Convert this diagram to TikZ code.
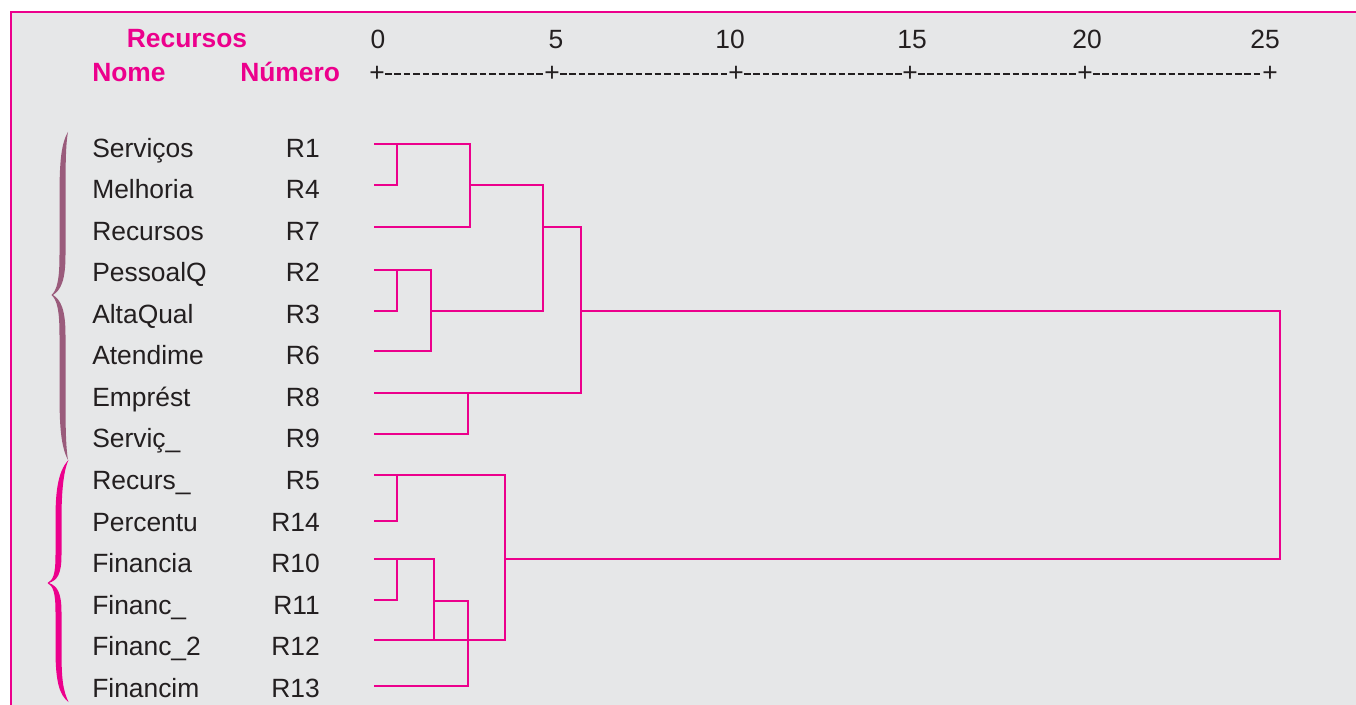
\documentclass[tikz,border=0pt]{standalone}
\usepackage{fontspec}
\setmainfont{Liberation Sans}
\usetikzlibrary{positioning}
\definecolor{rosa}{HTML}{EC008C}
\definecolor{malva}{HTML}{9A5B7B}
\definecolor{fundo}{HTML}{E6E7E8}
\definecolor{texto}{HTML}{231F20}
\tikzset{
  dend/.style={rosa,line width=2pt},
  rotulo/.style={anchor=base west,inner sep=0pt,text=texto,font=\fontsize{19.8}{24}\selectfont},
  numero/.style={anchor=base east,inner sep=0pt,text=texto,font=\fontsize{19.8}{24}\selectfont},
  escala/.style={anchor=base,inner sep=0pt,text=texto,font=\fontsize{19.8}{24}\selectfont},
  cabec/.style={anchor=base west,inner sep=0pt,text=rosa,font=\fontsize{19.8}{24}\selectfont\bfseries},
  tracejado/.style={texto,line width=1.3pt,dash pattern=on 4.9pt off 2.2pt}
}
\begin{document}
\begin{tikzpicture}[x=0.75pt,y=-0.75pt]
\useasboundingbox (0,0) rectangle (1356,705);
\fill[white] (0,0) rectangle (1356,705);
\fill[fundo] (11,12) rectangle (1356,705);
\draw[rosa,line width=2pt] (11,705) -- (11,12) -- (1356,12);

% cabecalho
\node[cabec,anchor=base] (hrec) at (187,48) {Recursos};
\node[cabec] (hnome) at (92,82) {Nome};
\node[cabec] (hnum) at (240,82) {Número};

% escala
\foreach \v/\x in {0/378,5/556,10/730,15/912,20/1087,25/1265}
  \node[escala] (e\v) at (\x,49) {\v};
\foreach \k/\x in {0/377,1/552,2/736,3/910,4/1085,5/1270}
  \node[inner sep=0pt,text=texto,font=\fontsize{19.8}{24}\selectfont] (p\k) at (\x,74) {+};
\foreach \k [evaluate=\k as \j using int(\k+1)] in {0,...,4}
  \draw[tracejado] (p\k.east) -- (p\j.west);

% folhas
\foreach \i/\nome/\num/\ly in {0/Serviços/R1/144, 1/Melhoria/R4/185, 2/Recursos/R7/227,
    3/PessoalQ/R2/270, 4/AltaQual/R3/311, 5/Atendime/R6/351, 6/Emprést/R8/393,
    7/Serviç\_/R9/434, 8/Recurs\_/R5/475, 9/Percentu/R14/521, 10/Financia/R10/559,
    11/Financ\_/R11/600, 12/Financ\_2/R12/640, 13/Financim/R13/686} {
  \pgfmathsetmacro\by{157.5+41.5*\i}
  \node[rotulo] (n\num) at (92,\by) {\nome};
  \node[numero] (\num) at (320,\by) {\num};
  \coordinate (c\num) at (374,\ly);
}

% chaves
\fill[malva] (68,132) .. controls (60,145) and (59.5,170) .. (59.5,200) -- (59.5,255)
  .. controls (59.5,280) and (57,290) .. (51.5,295) .. controls (57,300) and (59.5,310) .. (59.5,335)
  -- (59.5,390) .. controls (59.5,420) and (60,445) .. (68,460)
  .. controls (65.5,445) and (65.5,420) .. (65.5,390) -- (65.5,335)
  .. controls (65.5,310) and (61,300) .. (53,295) .. controls (61,290) and (65.5,280) .. (65.5,255)
  -- (65.5,200) .. controls (65.5,170) and (65.5,145) .. (68,132) -- cycle;
\fill[rosa] (68.5,460) .. controls (57,472) and (55.5,495) .. (55.5,520) -- (55.5,555)
  .. controls (55.5,575) and (53,580) .. (47.5,583) .. controls (53,586) and (55.5,592) .. (55.5,612)
  -- (55.5,650) .. controls (55.5,680) and (59,695) .. (68.5,702)
  .. controls (63,690) and (61.5,680) .. (61.5,650) -- (61.5,612)
  .. controls (61.5,592) and (57,586) .. (49,583) .. controls (57,580) and (61.5,575) .. (61.5,555)
  -- (61.5,520) .. controls (61.5,495) and (63,472) .. (68.5,460) -- cycle;

% dendrograma
\draw[dend] (cR1) -| (470,227) -- (cR7);
\draw[dend] (cR4) -| (397,144);
\draw[dend] (470,185) -| (543,311) -- (431,311);
\draw[dend] (cR2) -| (431,351) -- (cR6);
\draw[dend] (cR3) -| (397,270);
\draw[dend] (543,227) -| (581,393) -- (cR8);
\draw[dend] (468,393) |- (cR9);
\draw[dend] (581,311) -| (1280,559) -- (505,559);
\draw[dend] (cR5) -| (505,640) -- (cR12);
\draw[dend] (cR14) -| (397,475);
\draw[dend] (cR10) -| (434,640);
\draw[dend] (cR11) -| (397,559);
\draw[dend] (434,601) -| (468,686) -- (cR13);
\end{tikzpicture}
\end{document}
